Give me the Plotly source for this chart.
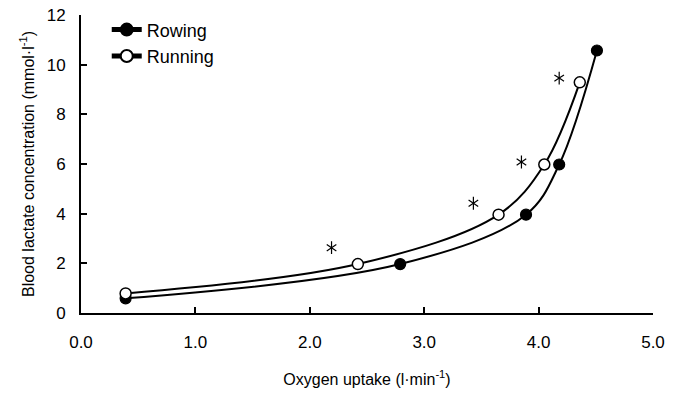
import plotly.graph_objects as go

rowing_x = [0.39, 2.79, 3.89, 4.18, 4.51]
rowing_y = [0.59, 1.97, 3.96, 5.98, 10.57]
running_x = [0.39, 2.42, 3.65, 4.05, 4.36]
running_y = [0.79, 1.97, 3.96, 5.98, 9.29]
star_x = [2.19, 3.43, 3.85, 4.18]
star_y = [2.63, 4.42, 6.08, 9.46]

x_ticks = [0, 1, 2, 3, 4, 5]
x_tick_labels = ["0.0", "1.0", "2.0", "3.0", "4.0", "5.0"]
y_ticks = [0, 2, 4, 6, 8, 10, 12]

FONT = "Liberation Sans, Arial, sans-serif"

fig = go.Figure()
fig.add_trace(go.Scatter(
    x=rowing_x, y=rowing_y, name="Rowing", mode="lines+markers",
    line=dict(color="black", width=2, shape="spline", smoothing=1.0),
    marker=dict(symbol="circle", size=11, color="black", line=dict(color="black", width=1.2)),
))
fig.add_trace(go.Scatter(
    x=running_x, y=running_y, name="Running", mode="lines+markers",
    line=dict(color="black", width=2, shape="spline", smoothing=1.0),
    marker=dict(symbol="circle", size=11, color="white", line=dict(color="black", width=1.5)),
))
# asterisks drawn as two overlaid three-armed marks (six arms)
for sym in ["y-up-open", "y-down-open"]:
    fig.add_trace(go.Scatter(
        x=star_x, y=star_y, mode="markers", showlegend=False, hoverinfo="skip",
        marker=dict(symbol=sym, size=8, color="black", line=dict(color="black", width=1.2)),
    ))

# page body adds an 8px offset, so the figure is sized 8px smaller
fig.update_layout(
    width=670, height=385,
    margin=dict(l=73, r=25, t=7, b=80, autoexpand=False),
    paper_bgcolor="white", plot_bgcolor="white",
    font=dict(family=FONT, size=17, color="black"),
    showlegend=True,
    legend=dict(x=0.045, y=1.012, xanchor="left", yanchor="top",
                bgcolor="rgba(0,0,0,0)", font=dict(size=18, family=FONT),
                itemsizing="constant", tracegroupgap=0),
    xaxis=dict(
        range=[0, 5], tickmode="array", tickvals=x_ticks, ticktext=x_tick_labels,
        showline=True, linecolor="black", linewidth=2, showgrid=False, zeroline=False,
        ticks="inside", ticklen=6, tickwidth=1.5, tickcolor="black",
        ticklabelstandoff=13, automargin=False, ticklabeloverflow="allow",
        title=dict(text="Oxygen uptake (l·min<sup>-1</sup>)", font=dict(size=16), standoff=22),
    ),
    yaxis=dict(
        range=[0, 12], tickmode="array", tickvals=y_ticks,
        showline=True, linecolor="black", linewidth=2, showgrid=False, zeroline=False,
        ticks="inside", ticklen=6, tickwidth=1.5, tickcolor="black",
        ticklabelstandoff=10, automargin=False, ticklabeloverflow="allow",
        title=dict(text="Blood lactate concentration (mmol·l<sup>-1</sup>)", font=dict(size=16), standoff=8),
    ),
)

fig.write_html("out.html")
